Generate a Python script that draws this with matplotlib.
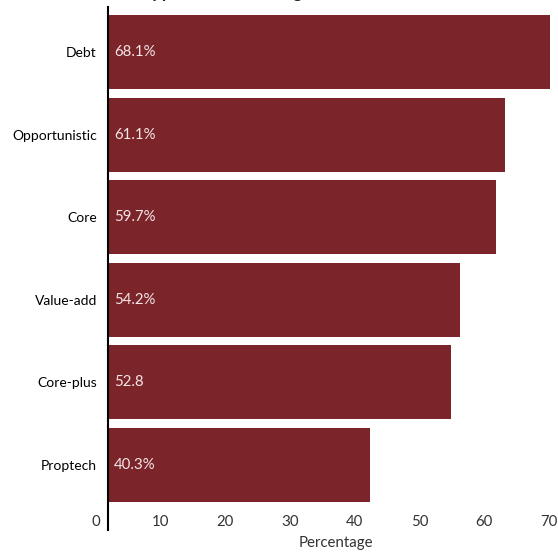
import matplotlib
matplotlib.use("Agg")
import matplotlib.pyplot as plt

categories = ["Debt", "Opportunistic", "Core", "Value-add", "Core-plus", "Proptech"]
values = [68.1, 61.1, 59.7, 54.2, 52.8, 40.3]
value_labels = ["68.1%", "61.1%", "59.7%", "54.2%", "52.8", "40.3%"]
xticks = [0, 10, 20, 30, 40, 50, 60, 70]
title = "Appetite for investing"
xlabel = "Percentage"

W, H = 558, 552
fig = plt.figure(figsize=(W / 100, H / 100), dpi=100)
plt.rcParams['font.family'] = ['Lato', 'DejaVu Sans']
FW = 'normal'
FS = 10.8

px = 6.48  # pixels per unit
ax_left, ax_right, ax_top, ax_bottom = 95.5, 558, 7, 530
ax = fig.add_axes([ax_left / W, 1 - ax_bottom / H, (ax_right - ax_left) / W, (ax_bottom - ax_top) / H])

bar_color = '#7b242a'
start = (109 - ax_left) / px
spine_x = (108 - ax_left) / px
ypos = list(range(len(categories)))
ax.barh(ypos, values, left=start, height=0.895, color=bar_color)

step = 82.6
c0 = 52
ax.set_ylim((ax_bottom - c0) / step, (ax_top - c0) / step)
ax.set_xlim(0, (ax_right - ax_left) / px)

for y, lab in zip(ypos, value_labels):
    ax.text(start + 5 / px, y, lab, color='#f3e6e6', fontsize=FS, fontweight=FW, va='center', ha='left')

ax.set_yticks(ypos)
ax.set_yticklabels(categories, fontsize=FS, fontweight=FW, color='#333333')
ax.set_xticks(xticks)
ax.set_xticklabels([str(t) for t in xticks], fontsize=FS, fontweight=FW, color='#333333')

for s in ['top', 'right', 'bottom']:
    ax.spines[s].set_visible(False)
ax.spines['left'].set_position(('data', spine_x))
ax.spines['left'].set_linewidth(1.5)
ax.spines['left'].set_color('black')
ax.tick_params(axis='y', length=0, pad=8)
ax.tick_params(axis='x', length=0, pad=-10.5)

fig.text(336 / W, 1 - 543 / H, xlabel, fontsize=FS, fontweight=FW, color='#333333', ha='center', va='center')
fig.text(141 / W, 1 + 2 / H, title, fontsize=12, fontweight='bold', color='#222222', ha='left', va='baseline')

fig.savefig("out.png", dpi=100)
